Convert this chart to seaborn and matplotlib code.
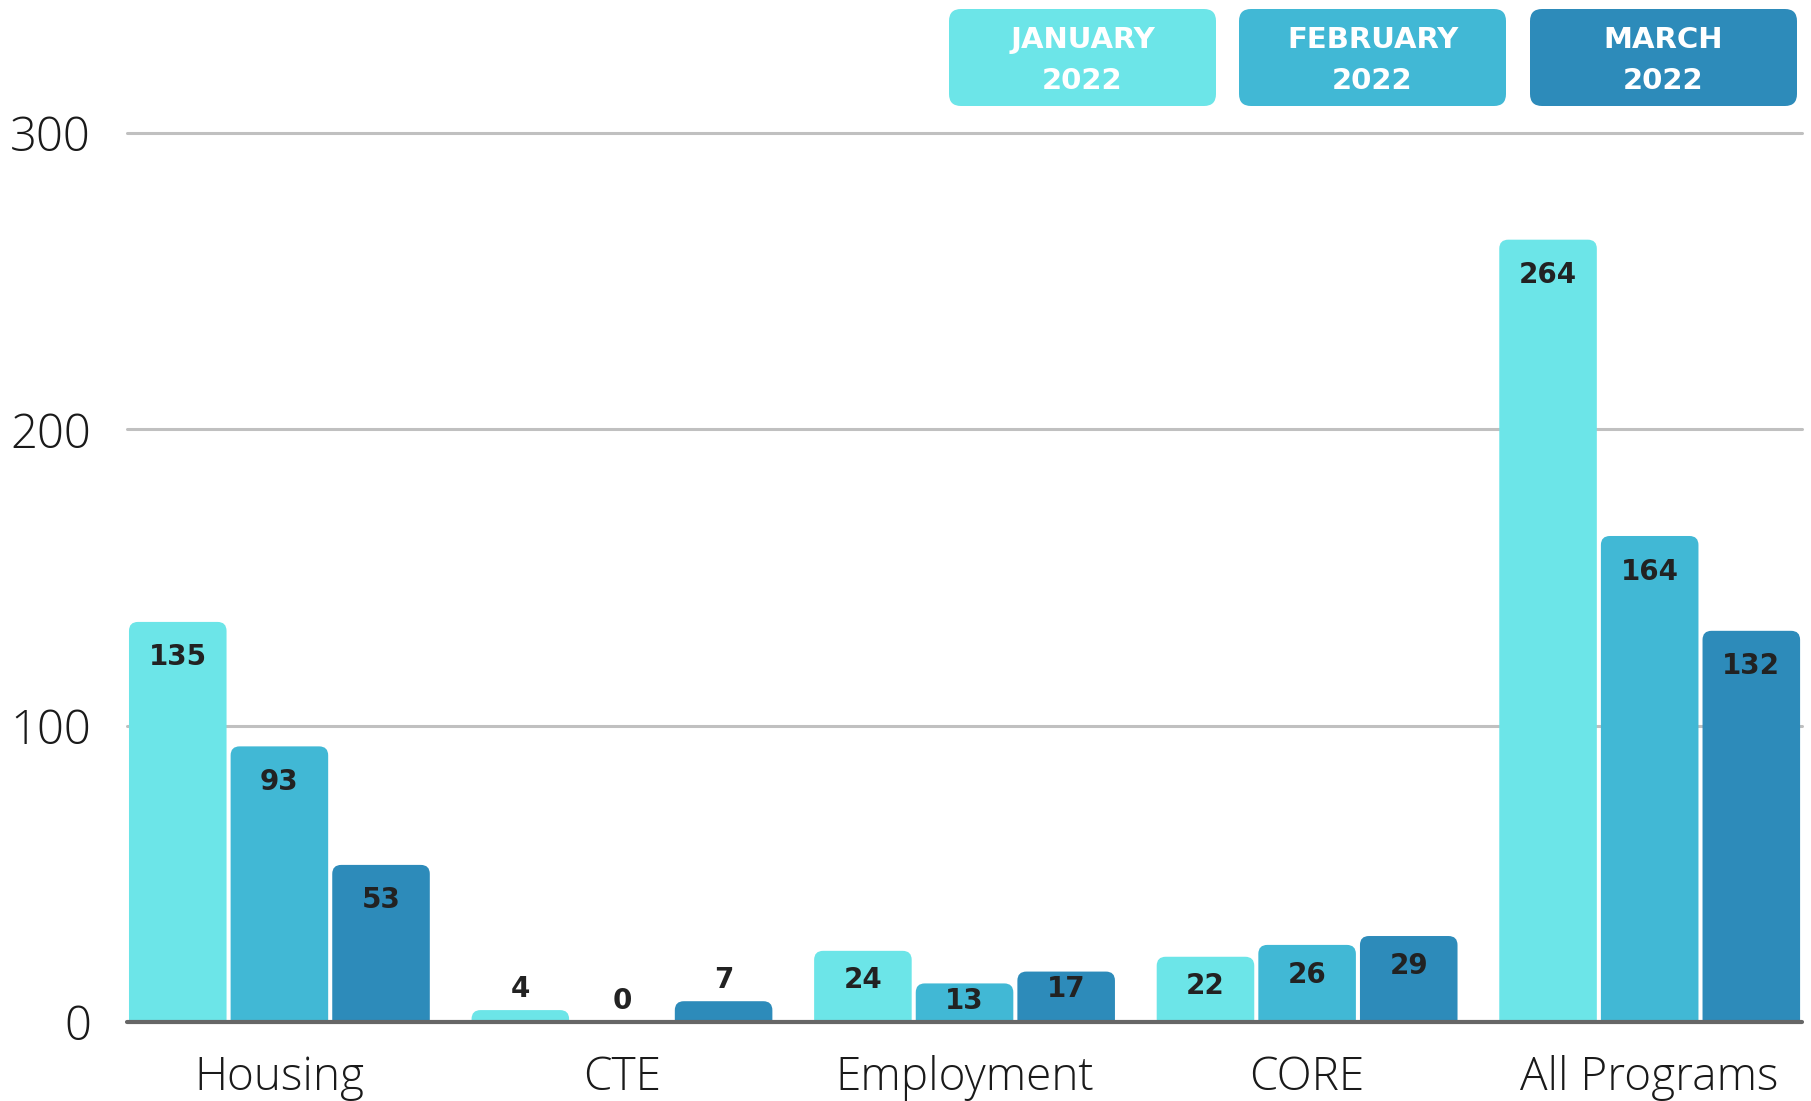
import pandas as pd
import seaborn as sns
import matplotlib.pyplot as plt
from matplotlib.patches import FancyBboxPatch

sns.set_style("white")
plt.rcParams["font.family"] = ["Open Sans", "DejaVu Sans"]

categories = ["Housing", "CTE", "Employment", "CORE", "All Programs"]
months = ["JANUARY\n2022", "FEBRUARY\n2022", "MARCH\n2022"]
jan_values = [135, 4, 24, 22, 264]
feb_values = [93, 0, 13, 26, 164]
mar_values = [53, 7, 17, 29, 132]
colors = ["#6ce5e8", "#41b8d5", "#2d8bba"]
y_ticks = [0, 100, 200, 300]


def long_table():
    rows = []
    for month, vals in zip(months, [jan_values, feb_values, mar_values]):
        for cat, v in zip(categories, vals):
            rows.append({"Program": cat, "Month": month, "Count": v})
    return pd.DataFrame(rows)


def round_bars(fig, ax, r_px=9):
    fig.canvas.draw()
    bbox = ax.get_window_extent()
    x0, x1 = ax.get_xlim()
    y0, y1 = ax.get_ylim()
    xppu = bbox.width / (x1 - x0)
    yppu = bbox.height / (y1 - y0)
    r_x = r_px / xppu
    r_y = r_px / yppu
    for container in ax.containers:
        for bar in container.patches:
            x, w, h = bar.get_x(), bar.get_width(), bar.get_height()
            color = bar.get_facecolor()
            bar.set_visible(False)
            if h <= 0:
                continue
            rounded = FancyBboxPatch((x, -r_y * 1.5), w, h + r_y * 1.5,
                                     boxstyle=f"round,pad=0,rounding_size={r_x}",
                                     mutation_aspect=xppu / yppu,
                                     facecolor=color, edgecolor="none", zorder=2)
            ax.add_patch(rounded)


def label_y(v):
    # labels sit inside the bar top, or just above the short ones
    if v >= 50:
        return v - 12
    if v >= 20:
        return v - 10
    if v >= 10:
        return v - 6
    return v + 7


def plot_counts():
    df = long_table()
    fig = plt.figure(figsize=(18.11, 11.01), dpi=100)
    ax = fig.add_axes([0.0701, 0.0718, 0.925, 0.8074])

    sns.barplot(data=df, x="Program", y="Count", hue="Month", order=categories,
                hue_order=months, palette=colors, saturation=1, width=0.89,
                gap=0.04, legend=False, ax=ax)

    ax.set_xlim(-0.445, 4.445)
    ax.set_ylim(0, 300)
    ax.set_yticks(y_ticks)
    ax.set_xlabel("")
    ax.set_ylabel("")
    sns.despine(ax=ax, left=True, bottom=True, top=True, right=True)
    for t in [100, 200, 300]:
        ax.axhline(t, color="#c0c0c0", lw=2.2, zorder=0, clip_on=False)
    ax.axhline(0, color="#666666", lw=3, zorder=5, clip_on=False)

    ax.tick_params(axis="y", length=0, pad=26, labelsize=34, labelcolor="#1a1a1a")
    ax.tick_params(axis="x", length=0, pad=24, labelsize=33, labelcolor="#1a1a1a")
    for lab in ax.get_yticklabels() + ax.get_xticklabels():
        lab.set_fontweight("light")

    round_bars(fig, ax)

    for container in ax.containers:
        for bar in container.patches:
            v = bar.get_height()
            ax.text(bar.get_x() + bar.get_width() / 2, label_y(v), f"{v:.0f}",
                    ha="center", va="center", fontsize=20, fontweight="bold",
                    color="#222222", family="DejaVu Sans", zorder=6)

    # legend boxes drawn in inches
    box_x = [9.49, 12.39, 15.30]
    for bx, month, color in zip(box_x, months, colors):
        box = FancyBboxPatch((bx, 9.95), 2.67, 0.97,
                             boxstyle="round,pad=0,rounding_size=0.12",
                             transform=fig.dpi_scale_trans, facecolor=color,
                             edgecolor="none")
        fig.patches.append(box)
        fig.text((bx + 1.335) / 18.11, (9.95 + 0.455) / 11.01, month,
                 ha="center", va="center", color="white", fontsize=21,
                 fontweight="bold", family="DejaVu Sans", linespacing=1.55)

    fig.savefig("out.png", dpi=100)
    plt.close(fig)


if __name__ == "__main__":
    plot_counts()
